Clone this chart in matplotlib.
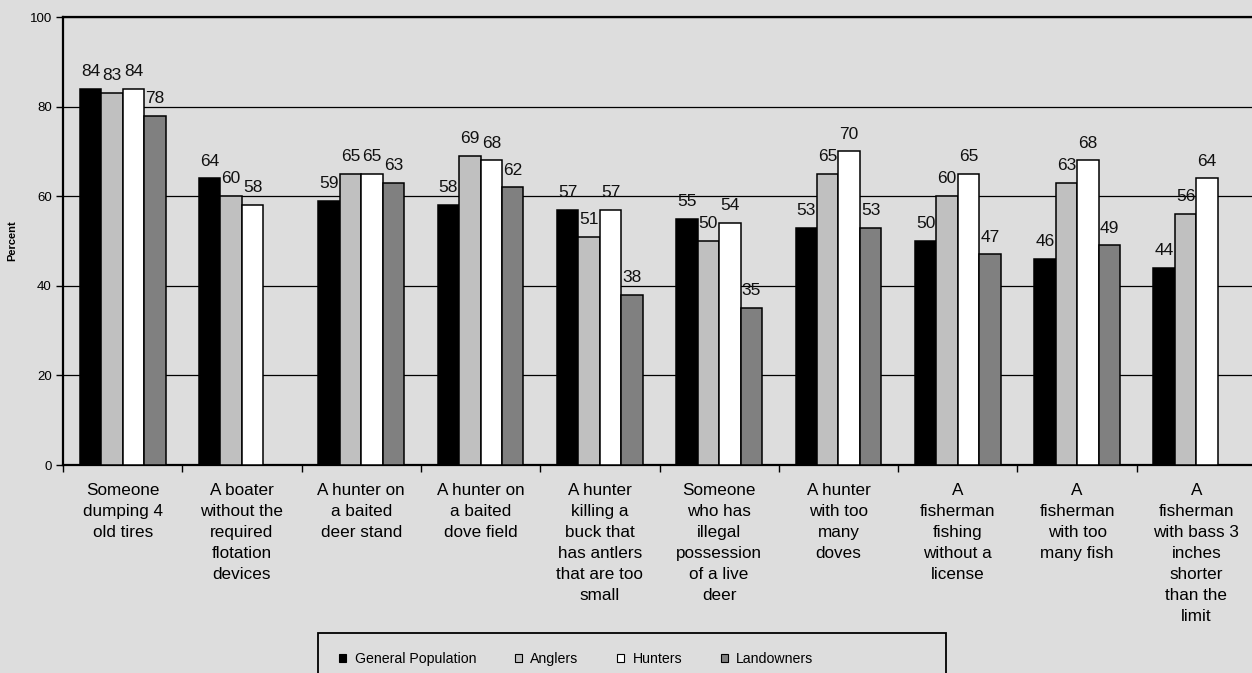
import numpy as np
import matplotlib
matplotlib.use("Agg")
import matplotlib.pyplot as plt
from matplotlib.patches import Patch, Rectangle

plt.rcParams['font.family'] = ['Liberation Sans', 'DejaVu Sans']

categories = [
    "Someone\ndumping 4\nold tires",
    "A boater\nwithout the\nrequired\nflotation\ndevices",
    "A hunter on\na baited\ndeer stand",
    "A hunter on\na baited\ndove field",
    "A hunter\nkilling a\nbuck that\nhas antlers\nthat are too\nsmall",
    "Someone\nwho has\nillegal\npossession\nof a live\ndeer",
    "A hunter\nwith too\nmany\ndoves",
    "A\nfisherman\nfishing\nwithout a\nlicense",
    "A\nfisherman\nwith too\nmany fish",
    "A\nfisherman\nwith bass 3\ninches\nshorter\nthan the\nlimit",
]
series_names = ["General Population", "Anglers", "Hunters", "Landowners"]
general_population = [84, 64, 59, 58, 57, 55, 53, 50, 46, 44]
anglers = [83, 60, 65, 69, 51, 50, 65, 60, 63, 56]
hunters = [84, 58, 65, 68, 57, 54, 70, 65, 68, 64]
landowners = [78, np.nan, 63, 62, 38, 35, 53, 47, 49, np.nan]
colors = ["#000000", "#C0C0C0", "#FFFFFF", "#808080"]

bg = "#DDDDDD"
W, H = 1252, 673
fig = plt.figure(figsize=(W / 100, H / 100), dpi=100, facecolor=bg)
ax = fig.add_axes([63 / W, 1 - 465 / H, 1193 / W, (465 - 17) / H])
ax.set_facecolor(bg)

x = np.arange(len(categories))
bw = 0.18
all_series = [general_population, anglers, hunters, landowners]
for i, (vals, name, col) in enumerate(zip(all_series, series_names, colors)):
    vals = np.array(vals, dtype=float)
    bars = ax.bar(x + (i - 1.5) * bw, vals, bw, color=col, edgecolor="black",
                  linewidth=1.1, label=name, zorder=3)
    labels = ["" if np.isnan(v) else f"{v:.0f}" for v in vals]
    ax.bar_label(bars, labels=labels, padding=7, fontsize=12.5, color="#111111")

ax.set_xlim(-0.5, len(categories) - 0.5)
ax.set_ylim(0, 100)
ax.set_yticks(range(0, 101, 20))
ax.tick_params(axis="y", labelsize=9.5, length=5, width=1, direction="out", pad=3)
ax.yaxis.grid(True, color="black", linewidth=0.9, zorder=0)
ax.set_axisbelow(True)

ax.set_xticks(x)
ax.set_xticklabels(categories, fontsize=12.3, linespacing=1.5, va="top")
ax.tick_params(axis="x", length=0, pad=13)
ax.set_xticks(np.arange(-0.5, len(categories)), minor=True)
ax.tick_params(axis="x", which="minor", length=5, width=1, direction="out")

for s in ["left", "bottom", "top"]:
    ax.spines[s].set_linewidth(1.6)
ax.spines["right"].set_visible(False)

ax.set_ylabel("Percent", fontsize=8, fontweight="bold", labelpad=9)

# legend box, wider than its entries
fig.patches.append(Rectangle((318 / W, -0.05), (946 - 318) / W, 0.05 + (673 - 633) / H,
                             transform=fig.transFigure, facecolor="none",
                             edgecolor="black", linewidth=1.3))
handles = [Patch(facecolor=c, edgecolor="black", linewidth=0.8) for c in colors]
leg = fig.legend(handles, series_names, loc="center left",
                 bbox_to_anchor=(339 / W, 1 - 659 / H), ncol=4, fontsize=10.2,
                 frameon=False, handlelength=0.5, handleheight=0.5,
                 handletextpad=0.6, columnspacing=2.72, borderpad=0,
                 borderaxespad=0)

fig.savefig("out.png", dpi=100, facecolor=bg)
